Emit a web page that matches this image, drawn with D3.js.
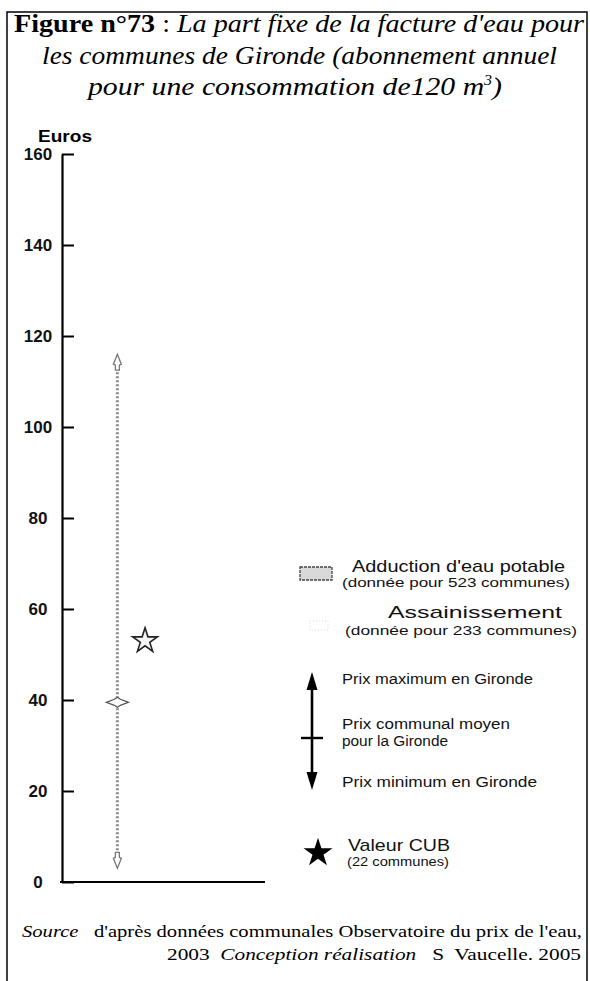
<!DOCTYPE html>
<html><head><meta charset="utf-8">
<script src="https://cdn.jsdelivr.net/npm/d3@7"></script>
<style>html,body{margin:0;padding:0;background:#fff}svg{display:block}</style>
</head><body>
<script>
// ---- data ----
const categories = ["Adduction d'eau potable", "Assainissement"];
const maxPrice  = [116, null];
const meanPrice = [39.5, null];
const minPrice  = [3, null];
const cubValue  = [53, null];
const yTicks = [0, 20, 40, 60, 80, 100, 120, 140, 160];
const legendSeries = [
  {label: "Adduction d'eau potable", sub: "(donnée pour 523 communes)"},
  {label: "Assainissement", sub: "(donnée pour 233 communes)"}
];
const legendArrow = ["Prix maximum en Gironde", "Prix communal moyen", "pour la Gironde", "Prix minimum en Gironde"];
const legendCub = ["Valeur CUB", "(22 communes)"];

const W = 590, H = 981;
const svg = d3.select("body").append("svg").attr("width", W).attr("height", H);
const sans = "'Liberation Sans', Arial, sans-serif";
const serif = "'Liberation Serif', 'Times New Roman', serif";

// frame
svg.append("rect").attr("x", 7).attr("y", 12).attr("width", 580).attr("height", 1000)
  .attr("fill", "none").attr("stroke", "#111").attr("stroke-width", 1.6);

// title
const t1 = svg.append("text").attr("x", 14).attr("y", 32).attr("font-family", serif).attr("font-size", 26)
  .attr("textLength", 570).attr("lengthAdjust", "spacingAndGlyphs").attr("fill", "#000");
t1.append("tspan").attr("font-weight", "bold").text("Figure n°73");
t1.append("tspan").text(" : ");
t1.append("tspan").attr("font-style", "italic").text("La part fixe de la facture d'eau pour");
svg.append("text").attr("x", 42).attr("y", 64).attr("font-family", serif)
  .attr("font-size", 26).attr("font-style", "italic").attr("textLength", 515).attr("lengthAdjust", "spacingAndGlyphs")
  .text("les communes de Gironde (abonnement annuel");
const t3 = svg.append("text").attr("x", 88).attr("y", 95).attr("font-family", serif)
  .attr("font-size", 26).attr("font-style", "italic").attr("textLength", 414).attr("lengthAdjust", "spacingAndGlyphs");
t3.append("tspan").text("pour une consommation de120 m");
t3.append("tspan").attr("font-size", 14).attr("dy", -10).text("3");
t3.append("tspan").attr("dy", 10).text(")");

// scales
const y = d3.scaleLinear().domain([0, 160]).range([882, 154]);
const x = d3.scaleBand().domain(categories).range([62, 265]).paddingInner(0).paddingOuter(0.1);

// y axis
const gy = svg.append("g").attr("transform", "translate(62,0)")
  .call(d3.axisLeft(y).tickValues(yTicks).tickSizeInner(-12).tickSizeOuter(0).tickPadding(24).tickFormat(d3.format("d")));
gy.select(".domain").attr("stroke", "#000").attr("stroke-width", 2.2);
gy.selectAll(".tick line").attr("stroke", "#000").attr("stroke-width", 2);
gy.selectAll(".tick text").attr("text-anchor", "middle").attr("font-family", sans)
  .attr("font-size", 17).attr("font-weight", "bold").attr("fill", "#111");
svg.append("text").attr("x", 38).attr("y", 142).attr("font-family", sans).attr("font-size", 16)
  .attr("font-weight", "bold").attr("textLength", 54).attr("lengthAdjust", "spacingAndGlyphs").text("Euros");

// x axis
const gx = svg.append("g").attr("transform", "translate(0,882)")
  .call(d3.axisBottom(x).tickSize(0).tickFormat(""));
gx.select(".domain").attr("stroke", "#000").attr("stroke-width", 2.2).attr("d", "M60,0H265");

// range marks
const idx = categories.map((c, i) => i).filter(i => maxPrice[i] != null);
const cx = i => x(categories[i]) + x.bandwidth() / 2;
const grey = "#777";
const g = svg.append("g");
idx.forEach(i => {
  const X = cx(i);
  g.append("line").attr("x1", X).attr("x2", X).attr("y1", y(maxPrice[i]) + 10).attr("y2", y(minPrice[i]) - 10)
    .attr("stroke", "#8c8c8c").attr("stroke-width", 3).attr("stroke-dasharray", "2,2");
  const ty = y(maxPrice[i]);
  g.append("path").attr("d", `M${X},${ty}L${X + 4},${ty + 10}L${X + 2},${ty + 11}L${X + 2},${ty + 16}L${X - 2},${ty + 16}L${X - 2},${ty + 11}L${X - 4},${ty + 10}Z`)
    .attr("fill", "#fff").attr("stroke", grey).attr("stroke-width", 1.3);
  const by = y(minPrice[i]);
  g.append("path").attr("d", `M${X},${by}L${X + 4},${by - 10}L${X + 2},${by - 11}L${X + 2},${by - 16}L${X - 2},${by - 16}L${X - 2},${by - 11}L${X - 4},${by - 10}Z`)
    .attr("fill", "#fff").attr("stroke", grey).attr("stroke-width", 1.3);
  const my = y(meanPrice[i]);
  g.append("path").attr("d", `M${X - 11},${my}L${X - 3},${my - 3}L${X},${my - 5}L${X + 3},${my - 3}L${X + 11},${my}L${X + 3},${my + 3}L${X},${my + 5}L${X - 3},${my + 3}Z`)
    .attr("fill", "#fff").attr("stroke", "#555").attr("stroke-width", 1.3);
  g.append("path").attr("d", d3.symbol(d3.symbolStar, 190)())
    .attr("transform", `translate(${X + x.bandwidth() * 0.3},${y(cubValue[i])})`)
    .attr("fill", "#f4f4f4").attr("stroke", "#222").attr("stroke-width", 1.6);
});

// legend
const L = svg.append("g").attr("font-family", sans).attr("fill", "#111");
L.append("rect").attr("x", 300).attr("y", 567).attr("width", 32).attr("height", 13)
  .attr("fill", "#d9d9d9").attr("stroke", "#444").attr("stroke-width", 1.3).attr("stroke-dasharray", "3,1");
L.append("rect").attr("x", 310).attr("y", 621).attr("width", 18).attr("height", 9)
  .attr("fill", "none").attr("stroke", "#ddd").attr("stroke-width", 1).attr("stroke-dasharray", "1,2");

function txt(xp, yp, s, size, len) {
  const t = L.append("text").attr("x", xp).attr("y", yp).attr("font-size", size).text(s);
  if (len) t.attr("textLength", len).attr("lengthAdjust", "spacingAndGlyphs");
  return t;
}
txt(352, 572, legendSeries[0].label, 17, 213);
txt(342, 587, legendSeries[0].sub, 12.5, 228);
txt(388, 618, legendSeries[1].label, 17, 174);
txt(345, 635, legendSeries[1].sub, 12.5, 232);

// arrow legend
const AX = 312;
L.append("line").attr("x1", AX).attr("x2", AX).attr("y1", 686).attr("y2", 776).attr("stroke", "#000").attr("stroke-width", 2.6);
L.append("path").attr("d", `M${AX},672L${AX + 5.5},690L${AX - 5.5},690Z`).attr("fill", "#000");
L.append("path").attr("d", `M${AX},790L${AX + 5.5},772L${AX - 5.5},772Z`).attr("fill", "#000");
L.append("line").attr("x1", AX - 11).attr("x2", AX + 11).attr("y1", 738).attr("y2", 738).attr("stroke", "#000").attr("stroke-width", 2.4);
txt(342, 684, legendArrow[0], 14, 191);
txt(342, 729, legendArrow[1], 14, 168);
txt(342, 746, legendArrow[2], 14, 106);
txt(342, 787, legendArrow[3], 14, 195);

// CUB legend
L.append("path").attr("d", d3.symbol(d3.symbolStar, 260)()).attr("transform", "translate(318,853)").attr("fill", "#000");
txt(348, 851, legendCub[0], 17, 102);
txt(347, 866, legendCub[1], 13, 102);

// source
const s1 = svg.append("text").attr("x", 22).attr("y", 937).attr("font-family", serif).attr("font-size", 17)
  .attr("textLength", 560).attr("lengthAdjust", "spacingAndGlyphs").style("white-space", "pre");
s1.append("tspan").attr("font-style", "italic").text("Source");
s1.append("tspan").text("   d'après données communales Observatoire du prix de l'eau,");
const s2 = svg.append("text").attr("x", 167).attr("y", 960).attr("font-family", serif).attr("font-size", 17)
  .attr("textLength", 414).attr("lengthAdjust", "spacingAndGlyphs").style("white-space", "pre");
s2.append("tspan").text("2003  ");
s2.append("tspan").attr("font-style", "italic").text("Conception réalisation");
s2.append("tspan").text("   S  Vaucelle. 2005");
</script>
</body></html>
